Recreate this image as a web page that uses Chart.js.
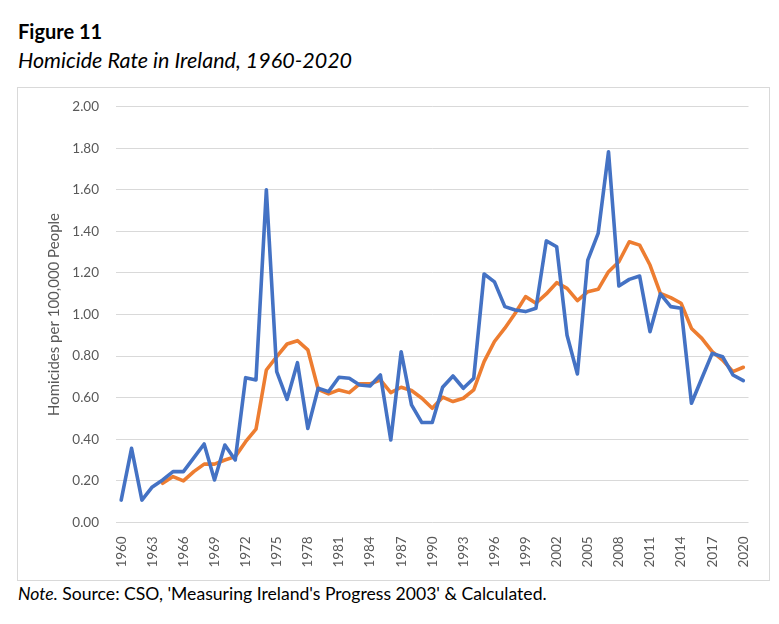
<!DOCTYPE html>
<html>
<head>
<meta charset="utf-8">
<script src="https://cdn.jsdelivr.net/npm/chart.js@4"></script>
<style>
  html, body { margin: 0; padding: 0; background: #fff; }
  body { width: 779px; height: 624px; position: relative; overflow: hidden; font-family: Lato, "Open Sans", sans-serif; color: #000; }
  .fig { position: absolute; left: 18px; top: 19px; font-size: 20px; font-weight: bold; }
  .sub { position: absolute; left: 18px; top: 47px; font-size: 21.5px; font-style: italic; }
  .box { position: absolute; left: 17px; top: 87px; width: 751px; height: 492px; border: 1px solid #d9d9d9; }
  .box canvas { position: absolute; left: 0; top: 0; }
  .note { position: absolute; left: 18px; top: 583px; font-size: 17.6px; }
</style>
</head>
<body>
<div class="fig">Figure 11</div>
<div class="sub">Homicide Rate in Ireland, 1960-2020</div>
<div class="box"><canvas id="grafHomicidios" width="751" height="492"></canvas></div>
<div class="note"><i>Note.</i> Source: CSO, 'Measuring Ireland's Progress 2003' &amp; Calculated.</div>
<script>
// Anos
const years = [
  1960, 1961, 1962, 1963, 1964, 1965, 1966, 1967, 1968, 1969,
  1970, 1971, 1972, 1973, 1974, 1975, 1976, 1977, 1978, 1979,
  1980, 1981, 1982, 1983, 1984, 1985, 1986, 1987, 1988, 1989,
  1990, 1991, 1992, 1993, 1994, 1995, 1996, 1997, 1998, 1999,
  2000, 2001, 2002, 2003, 2004, 2005, 2006, 2007, 2008, 2009,
  2010, 2011, 2012, 2013, 2014, 2015, 2016, 2017, 2018, 2019,
  2020
];

// Taxa anual
const homicideRate = [
  0.107, 0.356, 0.107, 0.170, 0.204, 0.244, 0.244, 0.310, 0.377, 0.204,
  0.372, 0.300, 0.696, 0.685, 1.600, 0.725, 0.592, 0.768, 0.452, 0.645,
  0.629, 0.698, 0.693, 0.661, 0.656, 0.709, 0.396, 0.821, 0.565, 0.480,
  0.480, 0.650, 0.704, 0.645, 0.693, 1.195, 1.157, 1.038, 1.022, 1.014,
  1.030, 1.354, 1.326, 0.900, 0.714, 1.262, 1.390, 1.783, 1.137, 1.169,
  1.185, 0.917, 1.099, 1.038, 1.030, 0.573, 0.693, 0.813, 0.797, 0.709,
  0.682
];

// Média móvel
const movingAverage = [
  null, null, null, null, 0.188, 0.220, 0.199, 0.244, 0.280, 0.280,
  0.300, 0.316, 0.388, 0.448, 0.733, 0.797, 0.858, 0.874, 0.830, 0.640,
  0.618, 0.637, 0.624, 0.666, 0.666, 0.685, 0.624, 0.650, 0.634, 0.597,
  0.549, 0.602, 0.581, 0.597, 0.637, 0.773, 0.870, 0.934, 1.006, 1.086,
  1.054, 1.099, 1.153, 1.126, 1.067, 1.110, 1.121, 1.206, 1.254, 1.350,
  1.334, 1.238, 1.102, 1.081, 1.054, 0.933, 0.885, 0.821, 0.781, 0.725,
  0.746
];

const yTicks = [0, 0.2, 0.4, 0.6, 0.8, 1.0, 1.2, 1.4, 1.6, 1.8, 2.0];

const fontFamily = "Lato, 'Open Sans', sans-serif";

new Chart(document.getElementById('grafHomicidios'), {
  type: 'line',
  data: {
    labels: years,
    datasets: [
      {
        label: 'Homicide rate',
        data: homicideRate,
        borderColor: '#4472C4',
        borderWidth: 3.6,
        pointRadius: 0,
        tension: 0,
        borderJoinStyle: 'round',
        borderCapStyle: 'round'
      },
      {
        label: 'Moving average',
        data: movingAverage,
        borderColor: '#ED7D31',
        borderWidth: 3.6,
        pointRadius: 0,
        tension: 0,
        borderJoinStyle: 'round',
        borderCapStyle: 'round'
      }
    ]
  },
  options: {
    responsive: false,
    animation: false,
    layout: { padding: { top: 18.7, right: 20.5, bottom: 7.7, left: 0 } },
    plugins: {
      legend: { display: false },
      tooltip: { enabled: false }
    },
    scales: {
      x: {
        offset: true,
        grid: { display: false },
        border: { display: false },
        afterFit: s => { s.height = 50; },
        ticks: {
          autoSkip: false,
          maxRotation: 90,
          minRotation: 90,
          padding: 6,
          color: '#595959',
          font: { family: fontFamily, size: 13.5 },
          callback: function (v, i) {
            const y = years[i];
            return (y - 1960) % 3 === 0 ? String(y) : '';
          }
        }
      },
      y: {
        min: 0,
        max: 2,
        afterFit: s => { s.width = 98; },
        afterBuildTicks: s => { s.ticks = yTicks.map(v => ({ value: v })); },
        // marcas invisíveis afastam os rótulos sem mexer no topo
        grid: { color: '#d9d9d9', lineWidth: 1, drawTicks: true, tickLength: 17, tickColor: 'rgba(0,0,0,0)' },
        border: { display: false },
        ticks: {
          padding: 0,
          color: '#595959',
          font: { family: fontFamily, size: 13.5 },
          callback: v => v.toFixed(2)
        },
        title: {
          display: true,
          text: 'Homicides per 100,000 People',
          color: '#595959',
          font: { family: fontFamily, size: 15 },
          padding: { top: 27.5, bottom: 0 }
        }
      }
    }
  }
});
</script>
</body>
</html>
